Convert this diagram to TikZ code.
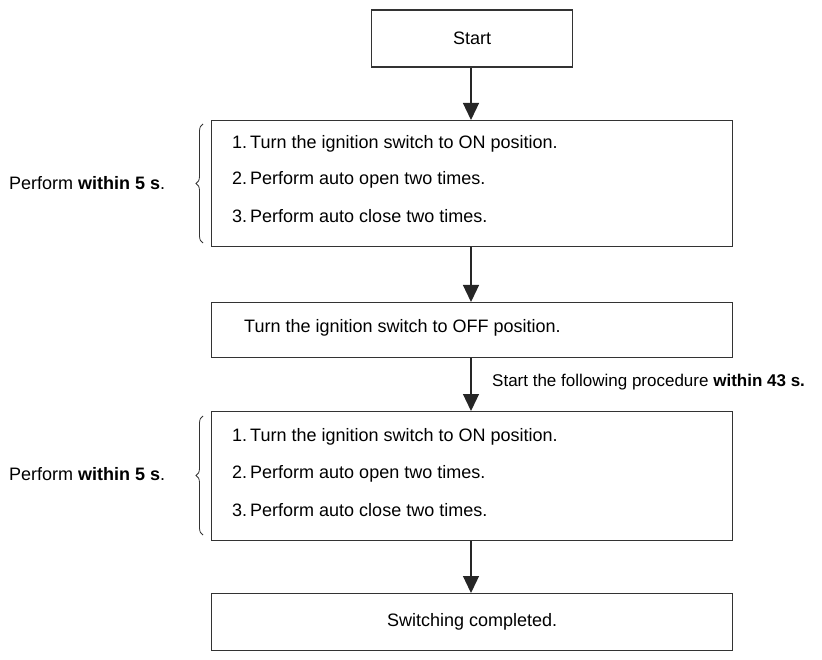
\documentclass[tikz,border=0pt]{standalone}
\usepackage{fontspec}
\setmainfont{Liberation Sans}
\usetikzlibrary{arrows.meta,decorations.pathreplacing}
\begin{document}
\begin{tikzpicture}[x=1pt,y=-1pt,
  box/.style={draw=black!80,line width=1.3pt},
  flow/.style={draw=black!85,line width=1.3pt,-{Triangle[width=16pt,length=17pt]}},
  txt/.style={anchor=west,inner sep=0pt,font=\fontsize{18}{21}\selectfont},
  ctxt/.style={inner sep=0pt,font=\fontsize{18}{21}\selectfont},
  brc/.style={draw=black!80,line width=0.8pt,decorate,decoration={brace,amplitude=7pt}}]
\useasboundingbox (0,0) rectangle (822,660);
% boxes
\node[box,minimum width=201pt,minimum height=57pt,anchor=north west,inner sep=0pt] (start) at (371,9.5) {};
\node[ctxt] (starttxt) at (start.center) {Start};
\node[box,minimum width=521pt,minimum height=126pt,anchor=north west,inner sep=0pt] (b1) at (211,120) {};
\node[box,minimum width=521pt,minimum height=55pt,anchor=north west,inner sep=0pt] (b2) at (211,302) {};
\node[box,minimum width=521pt,minimum height=129pt,anchor=north west,inner sep=0pt] (b3) at (211,411) {};
\node[box,minimum width=521pt,minimum height=57pt,anchor=north west,inner sep=0pt] (b4) at (211,593) {};
% texts
\node[txt] (t11) at (232,144) {1.\,Turn the ignition switch to ON position.};
\node[txt] (t12) at (232,180) {2.\,Perform auto open two times.};
\node[txt] (t13) at (232,216) {3.\,Perform auto close two times.};
\node[txt] (t2) at (244,328) {Turn the ignition switch to OFF position.};
\node[txt] (t31) at (232,437) {1.\,Turn the ignition switch to ON position.};
\node[txt] (t32) at (232,474) {2.\,Perform auto open two times.};
\node[txt] (t33) at (232,510) {3.\,Perform auto close two times.};
\node[ctxt] (t4) at (b4.center) {Switching completed.};
% side labels
\node[txt] (p1) at (9,183) {Perform \textbf{within 5 s}.};
\node[txt] (p2) at (9,474) {Perform \textbf{within 5 s}.};
\node[txt,font=\fontsize{17}{20}\selectfont] (lab) at (492,382) {Start the following procedure \textbf{within 43 s.}};
% braces
\coordinate (br1a) at (203,243);
\coordinate (br1b) at (203,124);
\coordinate (br2a) at (203,535);
\coordinate (br2b) at (203,416);
\draw[brc] (br1a) -- (br1b);
\draw[brc] (br2a) -- (br2b);
% arrows
\draw[flow] (start.south -| 471,0) -- (b1.north -| 471,0);
\draw[flow] (b1.south -| 471,0) -- (b2.north -| 471,0);
\draw[flow] (b2.south -| 471,0) -- (b3.north -| 471,0);
\draw[flow] (b3.south -| 471,0) -- (b4.north -| 471,0);
\end{tikzpicture}
\end{document}
